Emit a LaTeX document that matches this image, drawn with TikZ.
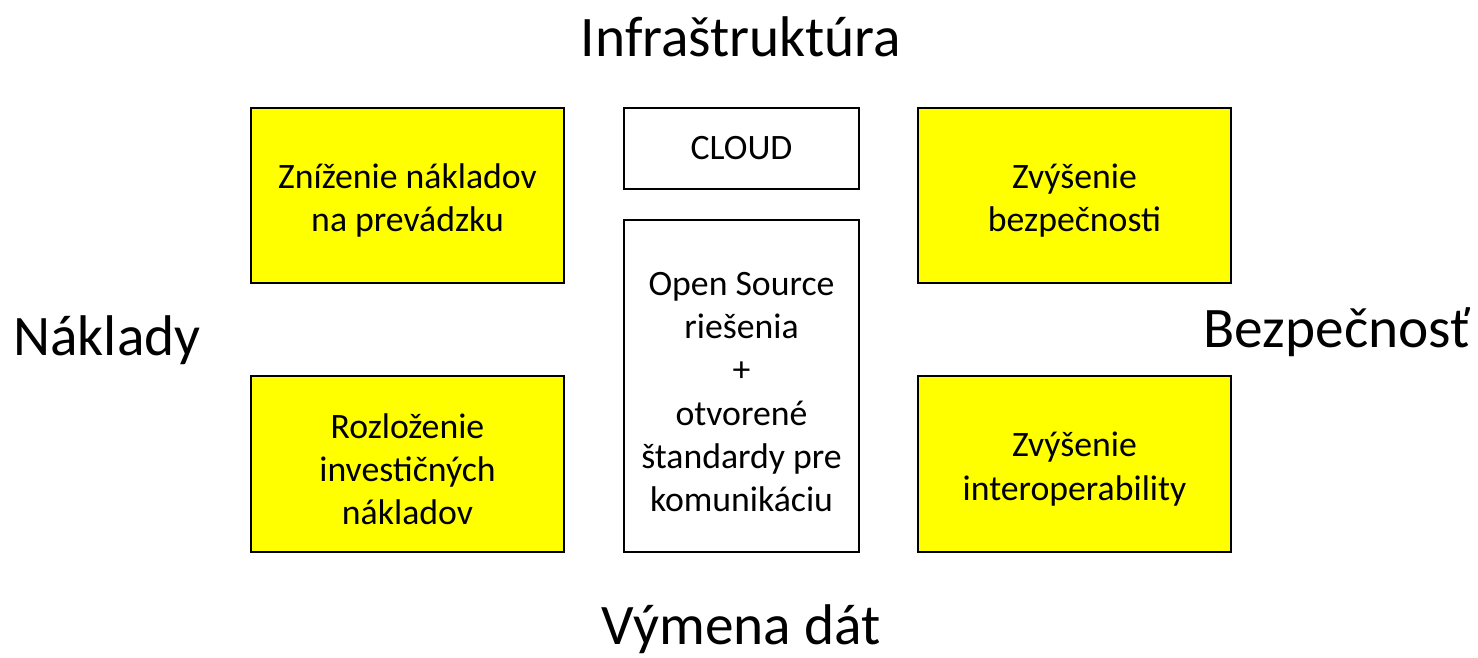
\documentclass[tikz,border=0pt]{standalone}
\usepackage{fontspec}
\setmainfont{Carlito}
\definecolor{yel}{HTML}{FFFF00}
\begin{document}
\begin{tikzpicture}[x=0.75pt,y=-0.75pt,
  box/.style={draw=black,line width=1.2pt,align=center,font=\fontsize{26.8}{32.5}\selectfont,inner sep=0pt},
  ybox/.style={box,fill=yel},
  wbox/.style={box,fill=white},
  title/.style={font=\fontsize{43}{48}\selectfont,inner sep=0pt}]
\useasboundingbox (0,0) rectangle (1478,657);
\node[ybox,minimum width=313*0.75pt,minimum height=175*0.75pt] (tl) at (407.5,195.5) {\strut\\[-29pt]Zníženie nákladov\\na prevádzku};
\node[ybox,minimum width=313*0.75pt,minimum height=175*0.75pt] (tr) at (1074.5,195.5) {\strut\\[-29pt]Zvýšenie\\bezpečnosti};
\node[ybox,minimum width=313*0.75pt,minimum height=176*0.75pt] (bl) at (407.5,464) {\strut\\[-29pt]Rozloženie\\investičných\\nákladov};
\node[ybox,minimum width=313*0.75pt,minimum height=176*0.75pt] (br) at (1074.5,464) {\strut\\[-29pt]Zvýšenie\\interoperability};
\node[wbox,minimum width=235*0.75pt,minimum height=81*0.75pt] (cloud) at (741.5,148.5) {CLOUD};
\node[wbox,minimum width=235*0.75pt,minimum height=332*0.75pt] (mid) at (741.5,386) {\strut\\[-29pt]Open Source\\riešenia\\+\\otvorené\\štandardy pre\\komunikáciu};
\node[title] (t1) at (741,37) {Infraštruktúra};
\node[title] (t2) at (741,629) {Výmena dát};
\node[title] (t3) at (107,340) {Náklady};
\node[title] (t4) at (1337,332) {Bezpečnosť};
\end{tikzpicture}
\end{document}
